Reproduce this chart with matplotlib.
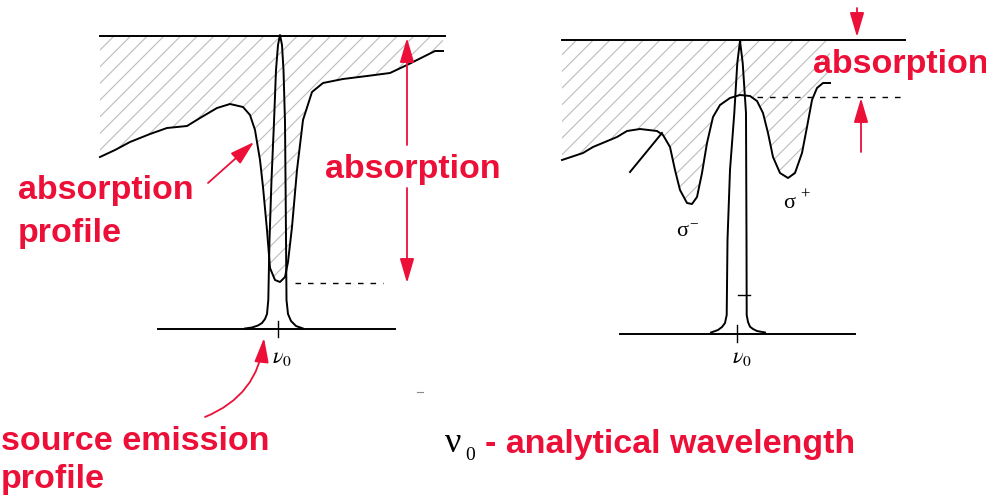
import matplotlib
matplotlib.use("Agg")
import matplotlib.pyplot as plt

plt.rcParams['hatch.linewidth'] = 0.8
plt.rcParams['mathtext.fontset'] = 'stix'

RED = '#ec1038'
HATCH = '#bcbcbc'

# ---- left panel: continuum absorption (lower boundary of hatched area) ----
left_abs_x = [100, 115, 130, 150, 167, 187, 200, 217, 230, 243, 250, 255, 260, 263, 267,
              270, 275, 280, 285, 288, 292, 297, 303, 312, 323, 343, 367, 390, 407, 423, 435, 443]
left_abs_y = [157, 150, 142, 134, 128, 126, 118, 108, 104, 107, 115, 130, 160, 187, 230,
              268, 280, 282, 277, 262, 227, 170, 120, 92, 83, 79, 76, 73, 65, 57, 51, 51]
left_top_y = 36
left_top_x = [100, 445]

# ---- left panel: source emission profile ----
left_em_x = [245, 252, 258, 262, 265, 267, 268.3, 269.5, 271.5, 274, 276, 278, 280,
             282, 283.5, 285, 285.7, 286.5, 288, 291, 296, 303]
left_em_y = [328.5, 327.5, 325.5, 323, 319, 314, 300, 240, 180, 122, 70, 45, 35,
             45, 70, 122, 200, 300, 314, 321, 326, 328.5]
left_base_x = [158, 395]
left_base_y = 329

# ---- right panel: Zeeman split absorption ----
right_abs_x = [562, 583, 593, 605, 617, 627, 640, 657, 663, 670, 675, 680, 687, 692, 697,
               702, 707, 713, 720, 730, 740, 750, 757, 763, 768, 773, 780, 788, 795, 802,
               807, 812, 817, 823, 830]
right_abs_y = [160, 153, 147, 142, 137, 131, 129, 131, 135, 147, 170, 190, 203, 204, 197,
               173, 143, 117, 105, 98, 95, 96, 101, 113, 133, 157, 173, 178, 173, 153,
               127, 100, 88, 83, 83]
right_top_y = 40
right_top_x = [562, 905]

# ---- right panel: source emission profile ----
right_em_x = [711, 718, 722, 725, 726.7, 727.5, 730, 734.3, 737.3, 740, 742.7, 746,
              746.5, 746.7, 748, 750, 753, 757, 765]
right_em_y = [332.5, 330, 327, 323, 315, 240, 170, 113, 63, 41, 63, 113,
              240, 315, 322, 326.7, 329, 331, 332.5]
right_base_x = [620, 855]
right_base_y = 334

tangent_x = [630, 662]
tangent_y = [172, 133]

fig = plt.figure(figsize=(9.87, 5.03), dpi=100)
ax = fig.add_axes([0, 0, 1, 1])
ax.set_xlim(0, 987)
ax.set_ylim(503, 0)
ax.axis('off')

LW = 1.4
# hatched absorbed regions
ax.fill_between(left_abs_x, [left_top_y] * len(left_abs_x), left_abs_y,
                facecolor='none', edgecolor=HATCH, hatch='//', linewidth=0)
ax.fill_between(right_abs_x, [right_top_y] * len(right_abs_x), right_abs_y,
                facecolor='none', edgecolor=HATCH, hatch='//', linewidth=0)

# left panel lines
ax.plot(left_top_x, [left_top_y] * 2, color='black', lw=LW)
ax.plot(left_abs_x, left_abs_y, color='black', lw=LW)
ax.plot(left_em_x, left_em_y, color='black', lw=LW)
ax.plot(left_base_x, [left_base_y] * 2, color='black', lw=LW)
ax.plot([277.7, 277.7], [321, 337], color='black', lw=1.0)
ax.plot([295, 383], [283, 283], color='black', lw=1.0, dashes=(4, 5))
ax.text(282, 358, r'$\nu_0$', fontsize=16, ha='center', va='center', color='black')

# right panel lines
ax.plot(right_top_x, [right_top_y] * 2, color='black', lw=LW)
ax.plot(right_abs_x, right_abs_y, color='black', lw=LW)
ax.plot(tangent_x, tangent_y, color='black', lw=LW)
ax.plot(right_em_x, right_em_y, color='black', lw=LW)
ax.plot(right_base_x, [right_base_y] * 2, color='black', lw=LW)
ax.plot([737.3, 737.3], [325, 342], color='black', lw=1.0)
ax.plot([738, 750], [295, 295], color='black', lw=1.0)
ax.plot([757, 903], [97, 97], color='black', lw=1.0, dashes=(4, 5))
ax.text(742, 358, r'$\nu_0$', fontsize=16, ha='center', va='center', color='black')

ax.text(682, 232, 'σ', fontsize=16, family='Liberation Serif', ha='center', va='center')
ax.text(694, 224, '−', fontsize=11, family='Liberation Serif', ha='center', va='center')
ax.text(789, 204, 'σ', fontsize=16, family='Liberation Serif', ha='center', va='center')
ax.text(805, 195, '+', fontsize=12, family='Liberation Serif', ha='center', va='center')

ax.plot([417, 423], [392, 392], color='#888888', lw=0.8)

# red annotations
txt = dict(color=RED, fontsize=24.5, family='Liberation Sans', weight='bold', va='baseline', ha='left')
ax.text(325, 178, 'absorption', **txt)
ax.text(18, 199, 'absorption', **txt)
ax.text(18, 242, 'profile', **txt)
ax.text(1, 450, 'source emission', **txt)
ax.text(1, 488, 'profile', **txt)
ax.text(813, 73, 'absorption', **txt)
ax.text(485, 453, '- analytical wavelength', **txt)

ax.text(453, 452, 'ν', fontsize=26, family='Liberation Serif', ha='center', va='baseline')
ax.text(470, 460, '0', fontsize=14, family='Liberation Serif', ha='center', va='baseline')

arr = dict(arrowstyle='-|>,head_length=0.75,head_width=0.22', color=RED, lw=1.3,
           shrinkA=0, shrinkB=0, mutation_scale=20)
ax.annotate('', xy=(407, 38), xytext=(407, 145), arrowprops=arr)
ax.annotate('', xy=(407, 283), xytext=(407, 188), arrowprops=arr)
ax.annotate('', xy=(254, 142), xytext=(208, 183), arrowprops=arr)
ax.annotate('', xy=(857, 37), xytext=(857, 8), arrowprops=arr)
ax.annotate('', xy=(861, 98), xytext=(861, 152), arrowprops=arr)
ax.annotate('', xy=(264, 338), xytext=(205, 417),
            arrowprops=dict(arr, connectionstyle='arc3,rad=0.3'))

fig.savefig('out.png', dpi=100)
